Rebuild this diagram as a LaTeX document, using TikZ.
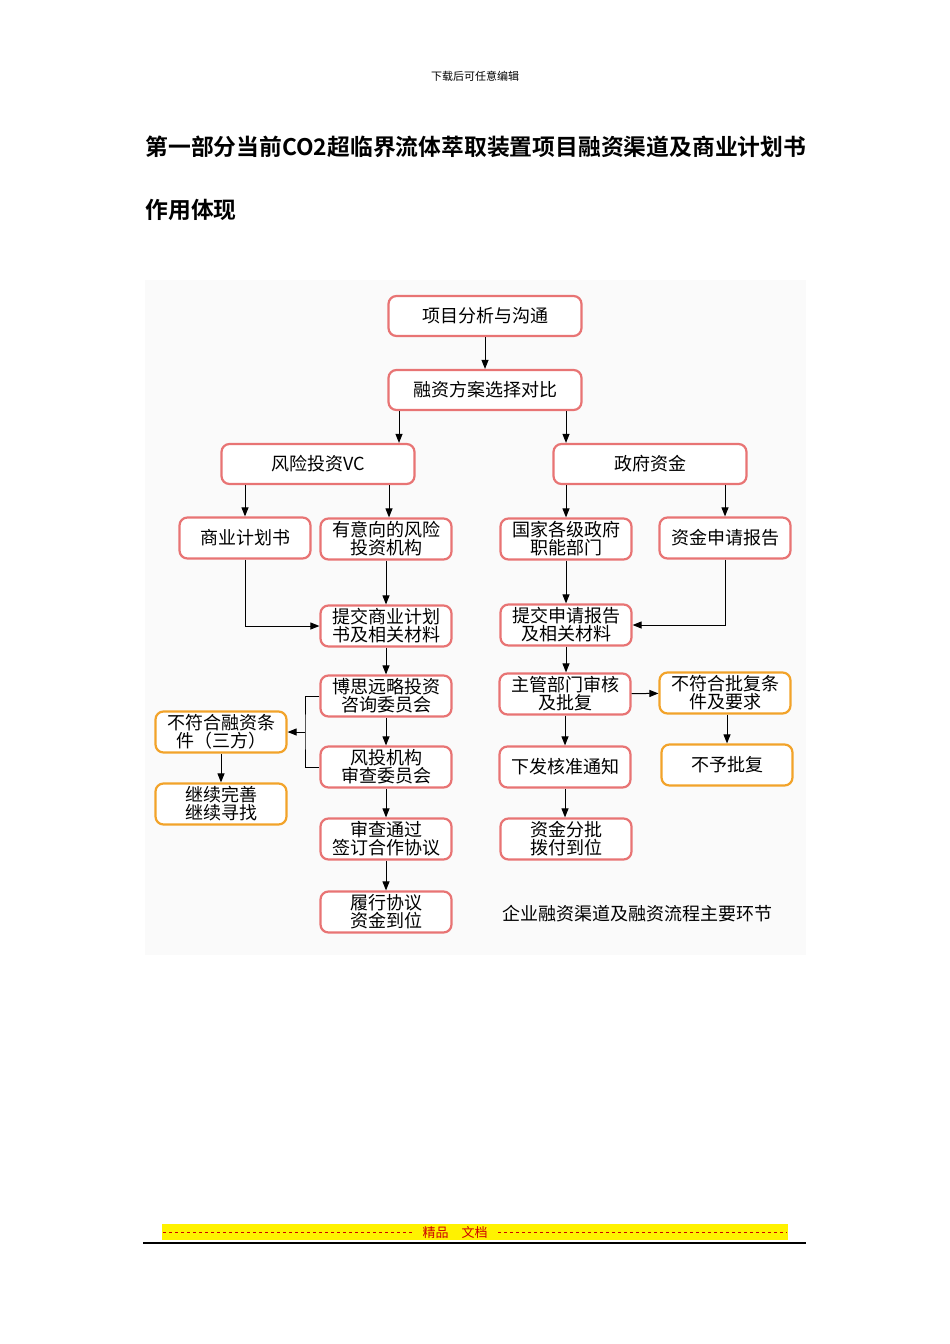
\documentclass[tikz,border=0pt]{standalone}
\usepackage{fontspec}
\setmainfont{Noto Sans CJK SC}
\newfontfamily\cjkb{Noto Sans CJK SC Bold}
\usetikzlibrary{arrows.meta}
\definecolor{pinkb}{HTML}{E87474}
\definecolor{orab}{HTML}{F2A32A}
\begin{document}
\begin{tikzpicture}[x=1pt,y=-1pt,
  box/.style={draw=pinkb,line width=2.2pt,rounded corners=8pt,fill=white,minimum width=131pt,minimum height=41pt,inner sep=1pt,align=center,font=\fontsize{18}{18}\selectfont},
  wbox/.style={box,minimum width=193pt,minimum height=40pt},
  obox/.style={box,draw=orab},
  arr/.style={-{Triangle[length=9pt,width=7pt]},line width=1pt},
  ln/.style={line width=1pt}]
\useasboundingbox (0,0) rectangle (950,1344);
\fill[white] (0,0) rectangle (950,1344);
\fill[black!2] (145,280) rectangle (806,955);
\node (hdr) at (475,76) {\fontsize{11}{11}\selectfont 下载后可任意编辑};
\node[anchor=west] (t1) at (142,147) {\cjkb\fontsize{22.8}{23}\selectfont 第一部分当前CO2超临界流体萃取装置项目融资渠道及商业计划书};
\node[anchor=west] (t2) at (142,210) {\cjkb\fontsize{22.8}{23}\selectfont 作用体现};

\node[wbox] (a) at (485,316) {项目分析与沟通};
\node[wbox] (b) at (485,390) {融资方案选择对比};
\node[wbox] (vc) at (318,464) {风险投资VC};
\node[wbox] (gov) at (650,464) {政府资金};
\node[box] (bp) at (245,538) {商业计划书};
\node[box] (inv) at (386,539) {有意向的风险\\投资机构};
\node[box] (gj) at (566,539) {国家各级政府\\职能部门};
\node[box] (sq) at (725,538) {资金申请报告};
\node[box] (tj) at (386,626) {提交商业计划\\书及相关材料};
\node[box] (tsq) at (566,625) {提交申请报告\\及相关材料};
\node[box] (bs) at (386,696) {博思远略投资\\咨询委员会};
\node[box] (zg) at (565,694) {主管部门审核\\及批复};
\node[obox] (bfp) at (725,693) {不符合批复条\\件及要求};
\node[obox] (bfr) at (221,732) {不符合融资条\\件（三方）};
\node[box] (ft) at (386,767) {风投机构\\审查委员会};
\node[box] (xf) at (565,767) {下发核准通知};
\node[obox] (byp) at (727,765) {不予批复};
\node[obox] (jx) at (221,804) {继续完善\\继续寻找};
\node[box] (sc) at (386,839) {审查通过\\签订合作协议};
\node[box] (zj) at (566,839) {资金分批\\拨付到位};
\node[box] (lx) at (386,912) {履行协议\\资金到位};
\node (cap) at (637,914) {\fontsize{18}{18}\selectfont 企业融资渠道及融资流程主要环节};

\draw[arr] (a) -- (b);
\draw[arr] (b.south -| vc.north) ++(81,0) coordinate (bx) -- (bx |- vc.north);
\draw[arr] (b.south -| gj.north) -- (gj.north |- gov.north);
\draw[arr] (vc.south -| bp.north) -- (bp);
\draw[arr] ([xshift=3pt]vc.south -| inv.north) -- ([xshift=3pt]inv.north);
\draw[arr] (gov.south -| gj.north) -- (gj);
\draw[arr] (gov.south -| sq.north) -- (sq);
\draw[arr] (inv) -- (tj);
\draw[arr] (bp.south) |- (tj.west);
\draw[arr] (gj) -- (tsq);
\draw[arr] (sq.south) |- (tsq.east);
\draw[arr] (tj) -- (bs);
\draw[arr] (bs) -- (ft);
\draw[arr] (ft) -- (sc);
\draw[arr] (sc) -- (lx);
\coordinate (br) at (305,732);
\draw[ln] (bs.west) -| (br) |- (ft.west);
\draw[arr] (br) -- (bfr);
\draw[arr] (bfr) -- (jx);
\draw[arr] (tsq) -- (tsq |- zg.north);
\draw[arr] (zg) -- (bfp);
\draw[arr] (zg) -- (xf);
\draw[arr] (xf) -- (xf |- zj.north);
\draw[arr] (bfp.south -| byp.north) -- (byp);

\fill[yellow] (162,1224) rectangle (788,1240);
\draw[red!80!black,dashed,line width=0.5pt] (163,1232) -- (412,1232) (498,1232) -- (787,1232);
\node[text=red!80!black] (ft1) at (455,1232) {\fontsize{13}{13}\selectfont 精品\quad 文档};
\draw[line width=1.2pt] (143,1243) -- (806,1243);
\end{tikzpicture}
\end{document}
